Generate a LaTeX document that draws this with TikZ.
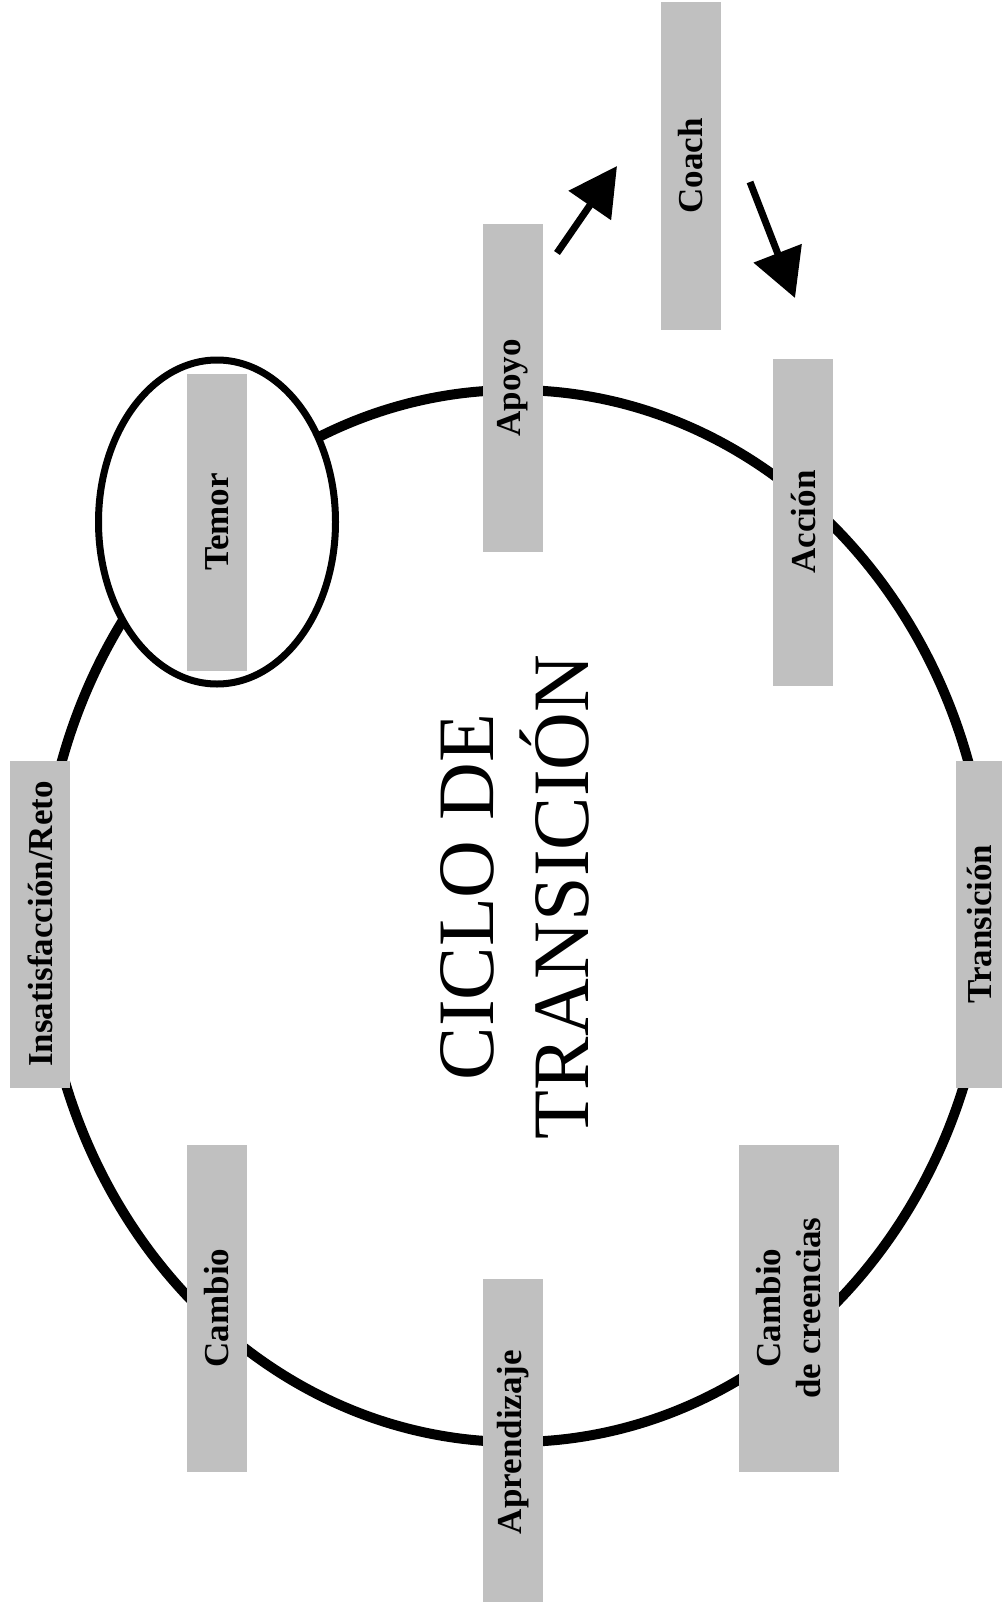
\documentclass[tikz,border=0pt]{standalone}
\usepackage{fontspec}
\setmainfont{Liberation Serif}
\usepackage{tikz}
\usetikzlibrary{shapes.geometric}
\usetikzlibrary{arrows.meta}

\definecolor{gris}{RGB}{192,192,192}

\begin{document}
\begin{tikzpicture}[x=1pt, y=1pt,
        etapa/.style={fill=gris, rotate=90, inner sep=0pt, minimum width=327pt, minimum height=60pt,
            align=center, font=\bfseries\fontsize{35}{40}\selectfont},
        flecha/.style={line width=7pt, -{Triangle[length=48pt, width=50pt]}}]
        \useasboundingbox (0,0) rectangle (1002,-1602);

        % ciclo y marco del temor
        \node(ciclo) [draw=black, ellipse, line width=10pt, minimum width=948pt, minimum height=1052pt] at (515, -916) {};
        \node(marco) [draw=black, fill=white, ellipse, line width=7pt, minimum width=237pt, minimum height=324pt] at (217, -522) {};

        \node(coach) [etapa] at (691, -166) {Coach};
        \node(apoyo) [etapa] at (513, -388) {Apoyo};
        \node(temor) [etapa, minimum width=297pt] at (217, -522) {Temor};
        \node(accion) [etapa] at (803, -522) {Acción};
        \node(insatisfaccion) [etapa] at (40, -924) {Insatisfacción/Reto};
        \node(transicion) [etapa, minimum height=46pt] at (979, -924) {Transición};
        \node(cambio) [etapa] at (217, -1308) {Cambio};
        \node(creencias) [etapa, minimum height=100pt] at (789, -1308) {Cambio\\de creencias};
        \node(aprendizaje) [etapa] at (513, -1442) {Aprendizaje};

        \node(titulo) [rotate=90, align=center, font=\fontsize{80}{95}\selectfont] at (515, -897) {CICLO DE\\TRANSICIÓN};

        \coordinate(ida1) at (557, -253);
        \coordinate(ida2) at (617, -166);
        \coordinate(vuelta1) at (750, -182);
        \coordinate(vuelta2) at (795, -298);

        \draw[flecha] (ida1) -- (ida2);
        \draw[flecha] (vuelta1) -- (vuelta2);
    \end{tikzpicture}
\end{document}
